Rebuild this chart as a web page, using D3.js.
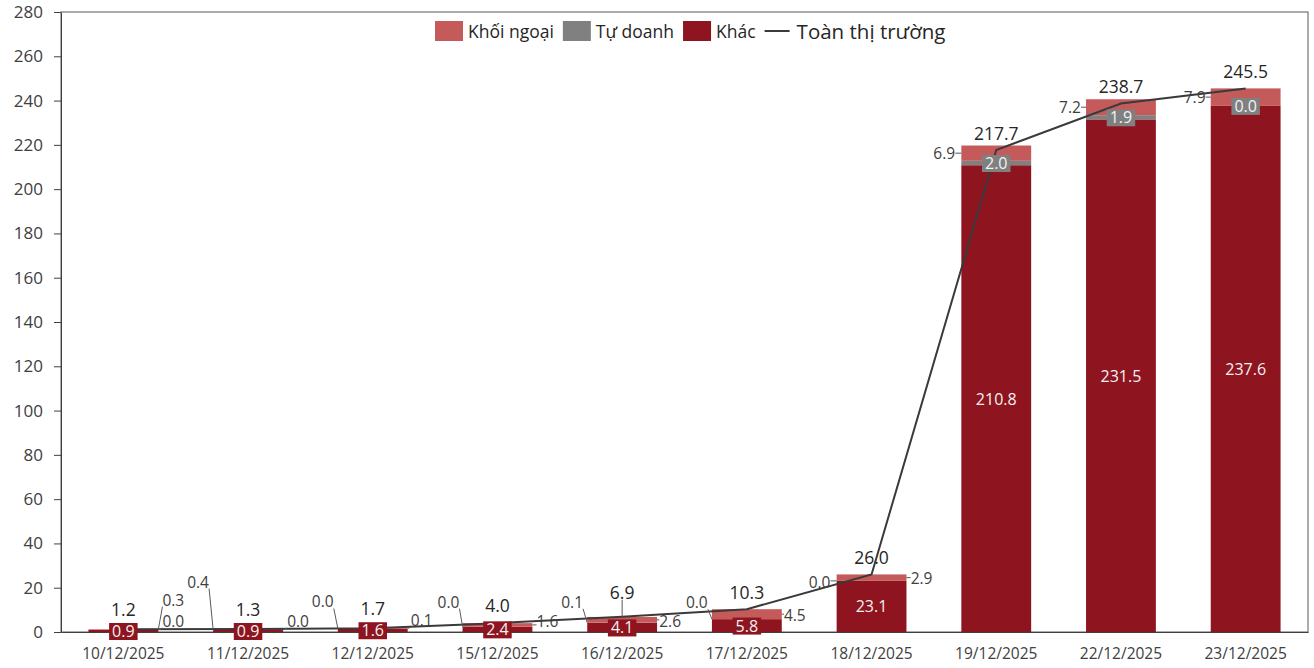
<!DOCTYPE html>
<html>
<head>
<meta charset="utf-8">
<script src="https://cdn.jsdelivr.net/npm/d3@7"></script>
<style>
  body { margin: 0; background: #fff; }
  svg { font-family: "Open Sans", sans-serif; }
</style>
</head>
<body>
<script>
// data
const categories = ['10/12/2025', '11/12/2025', '12/12/2025', '15/12/2025', '16/12/2025',
                    '17/12/2025', '18/12/2025', '19/12/2025', '22/12/2025', '23/12/2025']
const khac = [0.9, 0.9, 1.6, 2.4, 4.1, 5.8, 23.1, 210.8, 231.5, 237.6]
const tuDoanh = [0.0, 0.0, 0.0, 0.0, 0.1, 0.0, 0.0, 2.0, 1.9, 0.0]
const khoiNgoai = [0.3, 0.4, 0.1, 1.6, 2.6, 4.5, 2.9, 6.9, 7.2, 7.9]
const toanThiTruong = [1.2, 1.3, 1.7, 4.0, 6.9, 10.3, 26.0, 217.7, 238.7, 245.5]
const yTicks = [0, 20, 40, 60, 80, 100, 120, 140, 160, 180, 200, 220, 240, 260, 280]

// label placement (offsets in px from the segment anchor), kept apart from the values
const knLabelPos = [[50, -30], [-50, -48], [49, -8], [50, -4], [48, 1], [48, 1], [50, 0], [-52, 0], [-51, 0], [-51, 0]]
const tdLabelPos = [[50, -9], [50, -9], [-50, -27], [-49, -25], [-50, -21], [-50, -17], [-52, 1], 'box', 'box', 'box']
const totalLabelDy = [-20, -20, -20, -18, -25, -17, -17, -17, -17, -17]
const totalLeader = [false, false, false, false, true, false, false, false, false, false]

const colors = { khoiNgoai: '#c45a5a', tuDoanh: '#808080', khac: '#8e141f', line: '#3a3a3a' }

const W = 1314, H = 668
const m = { left: 61, right: 1308, top: 12, bottom: 632 }

const svg = d3.select('body').append('svg').attr('width', W).attr('height', H)

const x = d3.scaleBand().domain(categories).range([m.left, m.right]).paddingInner(0.44).paddingOuter(0.22)
const y = d3.scaleLinear().domain([0, 280]).range([m.bottom, m.top])
const bw = x.bandwidth()
const cx = d => x(d) + bw / 2

const rows = categories.map((c, i) => ({ date: c, khac: khac[i], tuDoanh: tuDoanh[i], khoiNgoai: khoiNgoai[i], total: toanThiTruong[i] }))
const series = d3.stack().keys(['khac', 'tuDoanh', 'khoiNgoai'])(rows)

// frame around plot area
svg.append('rect')
  .attr('x', m.left).attr('y', m.top)
  .attr('width', m.right - m.left).attr('height', m.bottom - m.top)
  .attr('fill', 'none').attr('stroke', '#595959').attr('stroke-width', 1)

// bars
series.forEach(s => {
  svg.append('g').selectAll('rect').data(s).enter().append('rect')
    .attr('x', d => x(d.data.date))
    .attr('width', bw)
    .attr('y', d => y(d[1]))
    .attr('height', d => y(d[0]) - y(d[1]))
    .attr('fill', colors[s.key])
})

// axes
const yAxis = svg.append('g').attr('transform', `translate(${m.left},0)`)
  .call(d3.axisLeft(y).tickValues(yTicks).tickSize(7).tickPadding(11).tickSizeOuter(0))
yAxis.select('.domain').attr('stroke', '#404040')
yAxis.selectAll('line').attr('stroke', '#404040')
yAxis.selectAll('text').style('font-size', '17px').attr('fill', '#404040').style('font-family', '"Open Sans", sans-serif')

const xAxis = svg.append('g').attr('transform', `translate(0,${m.bottom})`)
  .call(d3.axisBottom(x).tickSize(0).tickPadding(16).tickSizeOuter(0))
xAxis.select('.domain').attr('stroke', '#404040')
xAxis.selectAll('text').style('font-size', '15.5px').attr('fill', '#404040').style('font-family', '"Open Sans", sans-serif')

// total line
svg.append('path').datum(rows)
  .attr('fill', 'none').attr('stroke', colors.line).attr('stroke-width', 2)
  .attr('d', d3.line().x(d => cx(d.date)).y(d => y(d.total)))

// labels
const lg = svg.append('g')

function label(txt, px, py, size, color, boxFill) {
  const t = lg.append('text')
    .attr('x', px).attr('y', py)
    .attr('text-anchor', 'middle')
    .attr('dominant-baseline', 'central')
    .style('font-size', size + 'px')
    .attr('fill', color)
    .text(txt)
  const b = t.node().getBBox()
  if (boxFill) {
    lg.insert('rect', () => t.node())
      .attr('x', b.x - 3).attr('y', py - 8)
      .attr('width', b.width + 6).attr('height', 17)
      .attr('fill', boxFill)
  }
  return b
}

function leader(ax, ay, b) {
  const lx = Math.max(b.x, Math.min(ax, b.x + b.width))
  const ly = Math.max(b.y + 4, Math.min(ay, b.y + b.height - 4))
  if (Math.hypot(lx - ax, ly - ay) < 2) return
  lg.insert('line', ':first-child')
    .attr('x1', ax).attr('y1', ay).attr('x2', lx).attr('y2', ly)
    .attr('stroke', '#595959').attr('stroke-width', 1)
}

rows.forEach((d, i) => {
  const c = cx(d.date)

  // Khác, in the bar
  label(d.khac.toFixed(1), c, y(d.khac / 2), 16, '#f2f2f2', colors.khac)

  // Tự doanh
  const tdTop = d.khac + d.tuDoanh
  if (tdLabelPos[i] === 'box') {
    label(d.tuDoanh.toFixed(1), c, y(d.khac + d.tuDoanh / 2), 16, '#f2f2f2', colors.tuDoanh)
  } else {
    const [dx, dy] = tdLabelPos[i]
    const ay = y(d.khac + d.tuDoanh / 2)
    const b = label(d.tuDoanh.toFixed(1), c + dx, ay + dy, 15.5, '#404040')
    leader(c + Math.sign(dx) * bw / 2, ay, b)
  }

  // Khối ngoại
  const [kdx, kdy] = knLabelPos[i]
  const kay = y(tdTop + d.khoiNgoai / 2)
  const kb = label(d.khoiNgoai.toFixed(1), c + kdx, kay + kdy, 15.5, '#404040')
  leader(c + Math.sign(kdx) * bw / 2, kay, kb)

  // Toàn thị trường
  const ty = y(d.total)
  const tb = label(d.total.toFixed(1), c, ty + totalLabelDy[i], 17.5, '#262626')
  if (totalLeader[i]) leader(c, ty, tb)
})

// legend
const legend = svg.append('g')
const legendItems = [
  { name: 'Khối ngoại', type: 'rect', color: colors.khoiNgoai, size: 17.5 },
  { name: 'Tự doanh', type: 'rect', color: colors.tuDoanh, size: 17.5 },
  { name: 'Khác', type: 'rect', color: colors.khac, size: 17.5 },
  { name: 'Toàn thị trường', type: 'line', color: colors.line, size: 20.5 }
]
let lx = 435
const ly = 31
legendItems.forEach(it => {
  if (it.type === 'rect') {
    legend.append('rect').attr('x', lx).attr('y', ly - 10).attr('width', 28).attr('height', 20).attr('fill', it.color)
  } else {
    legend.append('line').attr('x1', lx).attr('x2', lx + 25).attr('y1', ly).attr('y2', ly)
      .attr('stroke', it.color).attr('stroke-width', 2)
  }
  const t = legend.append('text')
    .attr('x', lx + (it.type === 'rect' ? 33 : 32)).attr('y', ly)
    .attr('dominant-baseline', 'central')
    .style('font-size', it.size + 'px')
    .attr('fill', '#262626')
    .text(it.name)
  lx += (it.type === 'rect' ? 33 : 32) + t.node().getComputedTextLength() + 9
})
</script>
</body>
</html>
